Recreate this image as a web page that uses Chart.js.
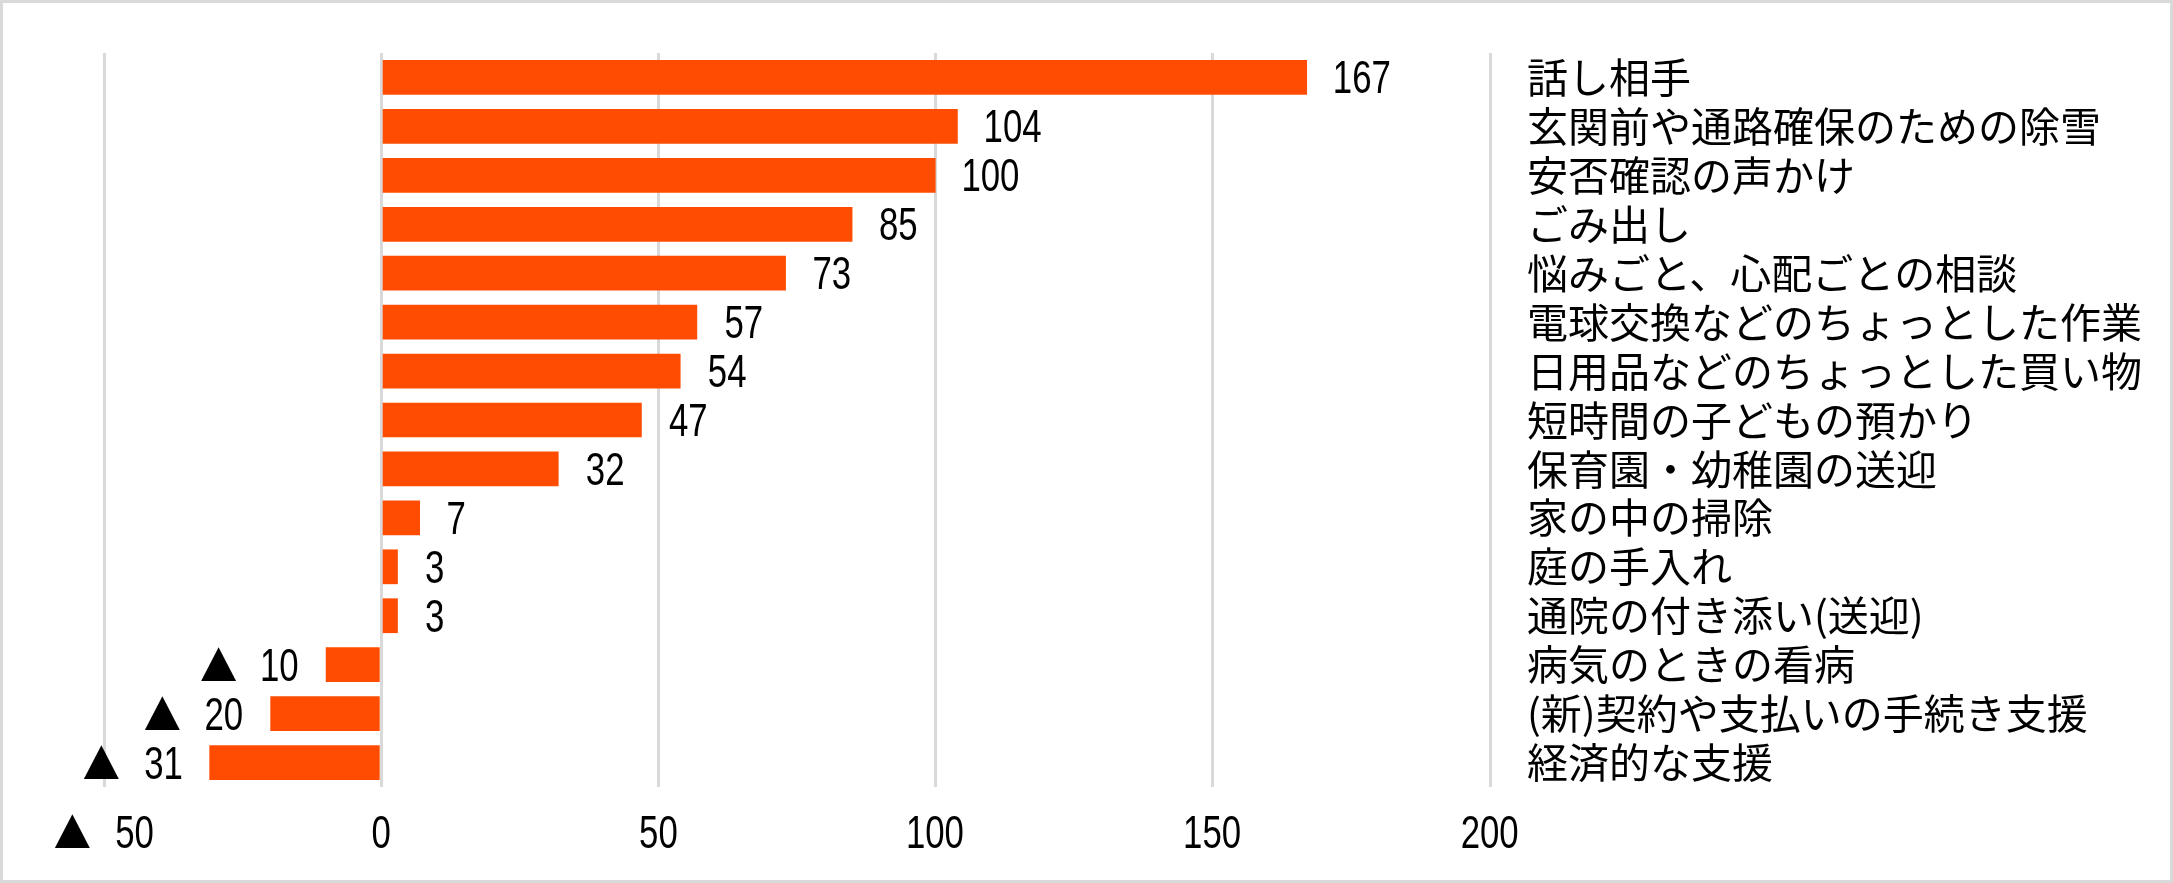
<!DOCTYPE html>
<html>
<head>
<meta charset="utf-8">
<script src="https://cdn.jsdelivr.net/npm/chart.js@4.4.1/dist/chart.umd.min.js"></script>
<style>
  html, body { margin: 0; padding: 0; background: #fff; }
  #wrap {
    width: 2173px; height: 883px;
    box-sizing: border-box;
    border: 3px solid #d9d9d9;
    position: relative;
  }
</style>
</head>
<body>
<div id="wrap"><canvas id="helpChart"></canvas></div>
<script>
// Data
const categories = [
  '話し相手',
  '玄関前や通路確保のための除雪',
  '安否確認の声かけ',
  'ごみ出し',
  '悩みごと、心配ごとの相談',
  '電球交換などのちょっとした作業',
  '日用品などのちょっとした買い物',
  '短時間の子どもの預かり',
  '保育園・幼稚園の送迎',
  '家の中の掃除',
  '庭の手入れ',
  '通院の付き添い(送迎)',
  '病気のときの看病',
  '(新)契約や支払いの手続き支援',
  '経済的な支援'
];
const values = [167, 104, 100, 85, 73, 57, 54, 47, 32, 7, 3, 3, -10, -20, -31];
const tickValues = [-50, 0, 50, 100, 150, 200];

const barColor = '#FF4C00';
const gridColor = '#d9d9d9';
const numFont = "'Liberation Sans', Arial, sans-serif";
const numSize = 47;
const numStretch = 0.74;   // the original digits are narrow
const jpFont = "'Noto Sans CJK JP', sans-serif";
const digitH = 34;
const triW = 35;
const triGap = 26;

// number drawn narrow, ink starting at inkLeft, centred on cy
function numberWidth(ctx, text) {
  ctx.font = numSize + 'px ' + numFont;
  ctx.textAlign = 'left';
  const m = ctx.measureText(text);
  return { left: -m.actualBoundingBoxLeft * numStretch, right: m.actualBoundingBoxRight * numStretch };
}
function drawNumber(ctx, text, inkLeft, cy) {
  const ink = numberWidth(ctx, text);
  const asc = ctx.measureText('0').actualBoundingBoxAscent;
  ctx.save();
  ctx.translate(inkLeft - ink.left, cy + asc / 2);
  ctx.scale(numStretch, 1);
  ctx.textAlign = 'left';
  ctx.textBaseline = 'alphabetic';
  ctx.fillText(text, 0, 0);
  ctx.restore();
}
// the triangle that marks a negative number
function drawTriangle(ctx, inkLeft, cy) {
  ctx.save();
  ctx.font = '100px ' + jpFont;
  ctx.textAlign = 'left';
  ctx.textBaseline = 'alphabetic';
  const m = ctx.measureText('▲');
  const w = m.actualBoundingBoxLeft + m.actualBoundingBoxRight;
  const h = m.actualBoundingBoxAscent + m.actualBoundingBoxDescent;
  ctx.translate(inkLeft, cy - digitH / 2);
  ctx.scale(triW / w, digitH / h);
  ctx.fillText('▲', m.actualBoundingBoxLeft, m.actualBoundingBoxAscent);
  ctx.restore();
}
// align: 'left' = group starts at x, 'right' = ends at x, 'center'
function drawValue(ctx, v, x, cy, align) {
  const text = String(Math.abs(v));
  const ink = numberWidth(ctx, text);
  const nw = ink.right - ink.left;
  const total = v < 0 ? triW + triGap + nw : nw;
  let start = x;
  if (align === 'right') start = x - total;
  if (align === 'center') start = x - total / 2;
  if (v < 0) {
    drawTriangle(ctx, start, cy);
    start += triW + triGap;
  }
  drawNumber(ctx, text, start, cy);
}

const valueLabels = {
  id: 'valueLabels',
  afterDraw(chart) {
    const ctx = chart.ctx;
    ctx.save();
    ctx.fillStyle = '#000';
    // labels next to the bars
    chart.getDatasetMeta(0).data.forEach((bar, i) => {
      const v = values[i];
      if (v >= 0) drawValue(ctx, v, bar.x + 28, bar.y, 'left');
      else drawValue(ctx, v, bar.x - 28, bar.y, 'right');
    });
    // x axis tick labels
    const xs = chart.scales.x;
    tickValues.forEach(v => {
      drawValue(ctx, v, xs.getPixelForValue(v), chart.chartArea.bottom + 45, 'center');
    });
    ctx.restore();
  }
};

new Chart(document.getElementById('helpChart'), {
  type: 'bar',
  data: {
    labels: categories,
    datasets: [{
      data: values,
      backgroundColor: barColor,
      borderWidth: 0,
      barPercentage: 0.71,
      categoryPercentage: 1
    }]
  },
  options: {
    indexAxis: 'y',
    responsive: true,
    maintainAspectRatio: false,
    animation: false,
    layout: { padding: { left: 101, top: 50, right: 0, bottom: 0 } },
    plugins: {
      legend: { display: false },
      tooltip: { enabled: false }
    },
    scales: {
      x: {
        min: -50,
        max: 200,
        afterBuildTicks: scale => {
          scale.ticks = tickValues.map(v => ({ value: v }));
        },
        afterFit: scale => { scale.height = 93; },
        grid: { color: gridColor, lineWidth: 3, drawTicks: false },
        border: { display: false },
        ticks: { display: false }
      },
      y: {
        position: 'right',
        afterFit: scale => {
          scale.width = 680;
          scale.paddingTop = 0;
          scale.paddingBottom = 0;
        },
        grid: { display: false, drawTicks: false },
        border: { display: false },
        ticks: {
          autoSkip: false,
          padding: 37,
          color: '#000',
          font: { size: 41, family: jpFont }
        }
      }
    }
  },
  plugins: [valueLabels]
});
</script>
</body>
</html>
